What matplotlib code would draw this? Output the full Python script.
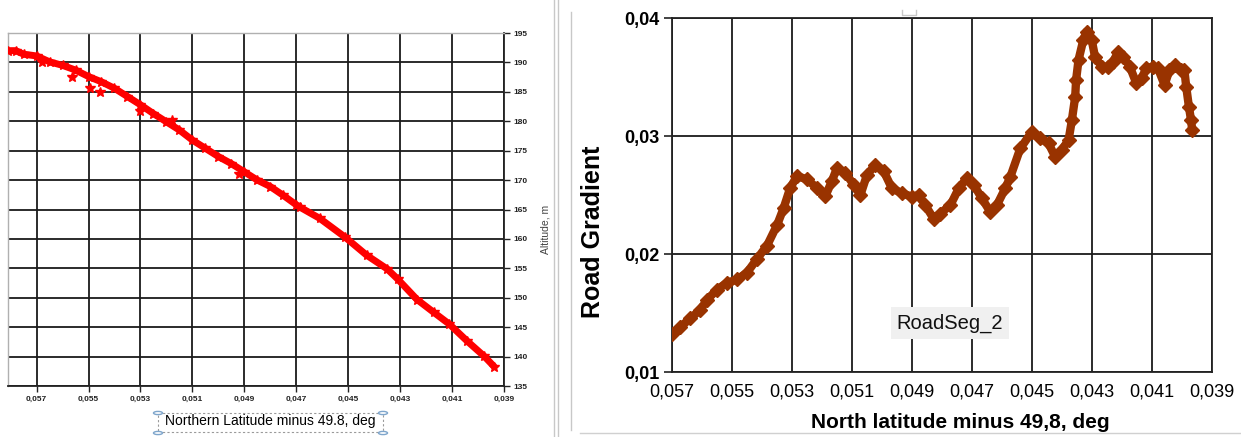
import matplotlib
matplotlib.use("Agg")
import matplotlib.pyplot as plt
from matplotlib.patches import Rectangle, Circle
from matplotlib.lines import Line2D
from matplotlib.ticker import FixedLocator, FuncFormatter

W, H = 1241, 437

# ---------------- data: left panel (altitude) ----------------
alt_lat = [0.0581, 0.0578, 0.0575, 0.0570, 0.0565, 0.0560, 0.0555, 0.0550,
           0.0545, 0.0540, 0.0535, 0.0530, 0.0525, 0.0520,
           0.0515, 0.0510, 0.0505, 0.0500, 0.0495, 0.0490, 0.0485, 0.0480, 0.0475,
           0.0470, 0.04686, 0.0461, 0.04512, 0.04428, 0.0435, 0.0431, 0.04235,
           0.0417, 0.0411, 0.04041, 0.03976, 0.03938]
alt_m = [192.0, 192.0, 191.4, 191.1, 190.1, 189.5, 188.7, 187.6,
         186.7, 185.6, 184.2, 182.8, 181.3, 179.9,
         178.5, 176.8, 175.4, 174.0, 172.8, 171.4, 170.0, 168.9, 167.4,
         165.8, 165.4, 163.5, 160.3, 157.2, 154.9, 153.2, 149.7,
         147.5, 145.5, 142.6, 140.05, 138.3]
# scattered points that sit off the main band
alt_out_lat = [0.0568, 0.05565, 0.05494, 0.05456, 0.0530, 0.0518, 0.0492]
alt_out_m = [190.0, 187.6, 185.6, 185.0, 181.8, 180.2, 171.0]
alt_xticks = [0.057, 0.055, 0.053, 0.051, 0.049, 0.047, 0.045, 0.043, 0.041, 0.039]
alt_yticks = [135, 140, 145, 150, 155, 160, 165, 170, 175, 180, 185, 190, 195]

# ---------------- data: right panel (road gradient) ----------------
grad_lat = [0.05700, 0.05672, 0.05639, 0.05606, 0.05583, 0.05550, 0.05517, 0.05483,
            0.05450, 0.05417, 0.05383, 0.05350, 0.05328, 0.05306, 0.05283, 0.05250,
            0.05217, 0.05189, 0.05167, 0.05150, 0.05122, 0.05094, 0.05072, 0.05050,
            0.05022, 0.04994, 0.04967, 0.04933, 0.04900, 0.04878, 0.04856, 0.04828,
            0.04806, 0.04772, 0.04744, 0.04717, 0.04694, 0.04667, 0.04639, 0.04617,
            0.04589, 0.04572, 0.04539, 0.04500, 0.04472, 0.04445, 0.04423, 0.04401,
            0.04378, 0.04367, 0.04356, 0.04353, 0.04345, 0.04329, 0.04318, 0.04301,
            0.04290, 0.04268, 0.04246, 0.04229, 0.04213, 0.04196, 0.04174, 0.04152,
            0.04135, 0.04119, 0.04097, 0.04080, 0.04058, 0.04042, 0.04025, 0.04003,
            0.03992, 0.03986, 0.03977, 0.03970, 0.03966]
grad_val = [0.01325, 0.01382, 0.01454, 0.01526, 0.01612, 0.01698, 0.01756, 0.01784,
            0.01842, 0.01957, 0.02072, 0.02244, 0.02388, 0.02560, 0.02661, 0.02632,
            0.02560, 0.02489, 0.02618, 0.02729, 0.02686, 0.02586, 0.02500, 0.02671,
            0.02757, 0.02700, 0.02557, 0.02514, 0.02486, 0.02500, 0.02414, 0.02300,
            0.02343, 0.02414, 0.02557, 0.02643, 0.02586, 0.02471, 0.02357, 0.02414,
            0.02557, 0.02655, 0.02895, 0.03037, 0.02980, 0.02938, 0.02825, 0.02881,
            0.02966, 0.03136, 0.03333, 0.03475, 0.03644, 0.03814, 0.03884, 0.03814,
            0.03672, 0.03588, 0.03588, 0.03630, 0.03715, 0.03672, 0.03588, 0.03446,
            0.03489, 0.03573, 0.03588, 0.03573, 0.03432, 0.03559, 0.03602, 0.03559,
            0.03559, 0.03418, 0.03249, 0.03136, 0.03051]
grad_xticks = [0.057, 0.055, 0.053, 0.051, 0.049, 0.047, 0.045, 0.043, 0.041, 0.039]
grad_yticks = [0.01, 0.02, 0.03, 0.04]


def comma(fmt):
    return FuncFormatter(lambda v, p: (fmt % v).replace(".", ","))


def px_axes(fig, l, t, r, b):
    return fig.add_axes([l / W, 1 - b / H, (r - l) / W, (b - t) / H])


plt.rcParams["font.family"] = ["Liberation Sans", "DejaVu Sans"]
fig = plt.figure(figsize=(W / 100, H / 100), dpi=100)
fig.patch.set_facecolor("white")

# ---------------- left panel ----------------
ax1 = px_axes(fig, 8, 33, 504, 386)
ax1.plot(alt_lat, alt_m, color="#ff0000", lw=5.0, marker="*", ms=7,
         mec="#ff0000", mfc="#ff0000", solid_capstyle="round",
         solid_joinstyle="round", zorder=3)
ax1.plot(alt_out_lat, alt_out_m, ls="none", marker="*", ms=7, color="#ff0000",
         zorder=3)
ax1.set_xlim(0.0581, 0.039)
ax1.set_ylim(135, 195)
ax1.xaxis.set_major_locator(FixedLocator(alt_xticks))
ax1.yaxis.set_major_locator(FixedLocator(alt_yticks))
ax1.xaxis.set_major_formatter(comma("%.3f"))
ax1.yaxis.set_major_formatter(FuncFormatter(lambda v, p: "%d" % v))
ax1.yaxis.tick_right()
ax1.grid(True, color="#1a1a1a", lw=1.3)
ax1.set_axisbelow(True)
for s in ["left", "top"]:
    ax1.spines[s].set_color("#b0b0b0")
    ax1.spines[s].set_linewidth(1.0)
for s in ["right", "bottom"]:
    ax1.spines[s].set_color("#222222")
    ax1.spines[s].set_linewidth(1.3)
ax1.tick_params(axis="both", direction="out", length=4, width=1, color="#222222",
                labelsize=6, pad=3)
for lab in ax1.get_xticklabels() + ax1.get_yticklabels():
    lab.set_fontweight("bold")
    lab.set_color("#222222")

fig.text(545 / W, 1 - 229 / H, "Altitude, m", rotation=90, ha="center", va="center",
         fontsize=7.5, color="#444444")
fig.text(270 / W, 1 - 421 / H, "Northern Latitude minus 49.8, deg", ha="center",
         va="center", fontsize=10, color="black")

# selection box with handles around the left x label
fig.patches.append(Rectangle((158 / W, 1 - 432 / H), (383 - 158) / W, 19 / H,
                             transform=fig.transFigure, fill=False, ls=(0, (2, 2)),
                             lw=0.8, ec="#9a9a9a"))
for cx, cy in [(158, 413), (383, 413), (158, 433), (383, 433)]:
    fig.patches.append(Circle((cx / W, 1 - cy / H), 4.5 / W, transform=fig.transFigure,
                              fc="white", ec="#7fa6cc", lw=1.0))

# frame decorations between panels
for xx in (554, 558):
    fig.lines.append(Line2D([xx / W, xx / W], [0, 1], transform=fig.transFigure,
                            color="#c8c8c8", lw=1.0))
fig.lines.append(Line2D([571 / W, 571 / W], [1 - 430 / H, 1 - 12 / H],
                        transform=fig.transFigure, color="#c8c8c8", lw=1.0))
fig.lines.append(Line2D([580 / W, 1], [1 - 433 / H, 1 - 433 / H],
                        transform=fig.transFigure, color="#d0d0d0", lw=1.0))
fig.lines.append(Line2D([902 / W, 902 / W, 916 / W, 916 / W],
                        [1 - 10 / H, 1 - 15 / H, 1 - 15 / H, 1 - 10 / H],
                        transform=fig.transFigure, color="#c8c8c8", lw=1.0))

# ---------------- right panel ----------------
ax2 = px_axes(fig, 672, 18, 1212, 372)
ax2.plot(grad_lat, grad_val, color="#993300", lw=6.0, marker="D", ms=7,
         mec="#993300", mfc="#993300", solid_joinstyle="round",
         solid_capstyle="round", zorder=3)
ax2.set_xlim(0.057, 0.039)
ax2.set_ylim(0.01, 0.04)
ax2.xaxis.set_major_locator(FixedLocator(grad_xticks))
ax2.yaxis.set_major_locator(FixedLocator(grad_yticks))
ax2.xaxis.set_major_formatter(comma("%.3f"))
ax2.yaxis.set_major_formatter(comma("%.2f"))
ax2.grid(True, color="#1a1a1a", lw=1.3)
ax2.set_axisbelow(True)
for s in ax2.spines.values():
    s.set_color("#222222")
    s.set_linewidth(1.3)
ax2.tick_params(axis="x", length=0, labelsize=13, pad=8)
ax2.tick_params(axis="y", direction="out", length=6, width=1.2, color="#222222",
                labelsize=13, pad=3)
for lab in ax2.get_yticklabels():
    lab.set_fontweight("bold")

fig.text(960 / W, 1 - 423 / H, "North latitude minus 49,8, deg", ha="center",
         va="center", fontsize=15, fontweight="bold")
fig.text(593 / W, 1 - 232 / H, "Road Gradient", rotation=90, ha="center",
         va="center", fontsize=18, fontweight="bold")
fig.text(950 / W, 1 - 323 / H, "RoadSeg_2", ha="center", va="center", fontsize=14.5,
         color="#111111",
         bbox=dict(boxstyle="square,pad=0.3", fc="#f0f0f0", ec="none"))

fig.savefig("out.png", dpi=100)
